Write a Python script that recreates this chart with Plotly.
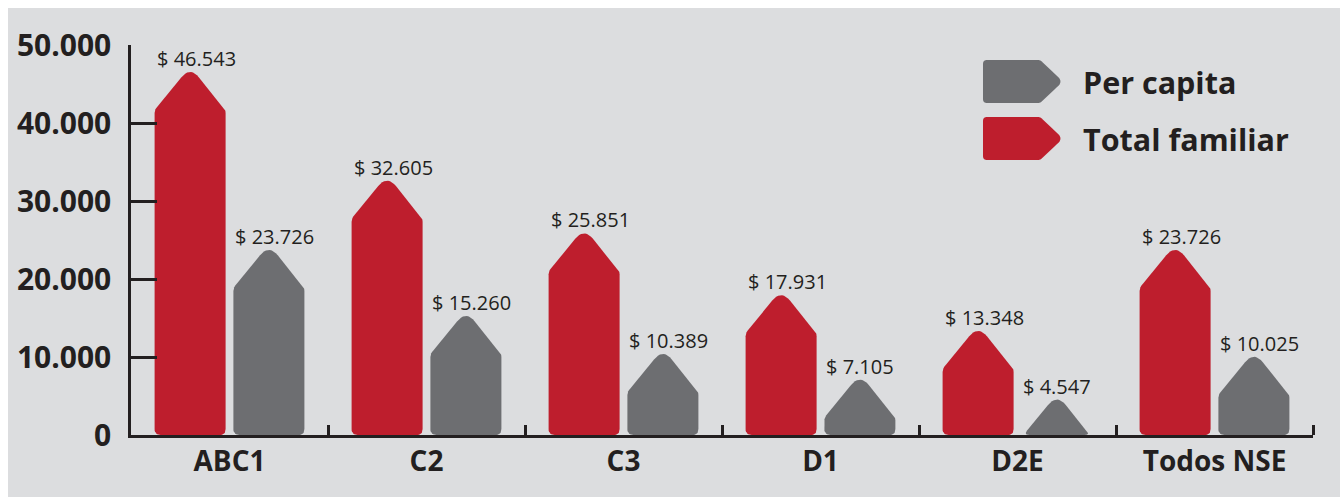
import numpy as np
import plotly.graph_objects as go

# ---- data ----
categorias = ["ABC1", "C2", "C3", "D1", "D2E", "Todos NSE"]
total_familiar = [46543, 32605, 25851, 17931, 13348, 23726]
per_capita = [23726, 15260, 10389, 7105, 4547, 10025]
valores_eje_y = [0, 10000, 20000, 30000, 40000, 50000]
textos_eje_y = ["0", "10.000", "20.000", "30.000", "40.000", "50.000"]
series = [("Total familiar", total_familiar), ("Per capita", per_capita)]

# ---- style ----
ROJO = "#be1e2d"
GRIS = "#6d6e71"
FONDO = "#dcdddf"
TINTA = "#231f20"
FUENTE = "Open Sans"
colores = {"Total familiar": ROJO, "Per capita": GRIS}
desplazamiento = {"Total familiar": -0.2, "Per capita": 0.2}

W, H = 1340, 497
ML, MR, MT, MB = 131, 27, 45, 62
PW, PH = W - ML - MR, H - MT - MB
Y_MAX = 50000
N = len(categorias)
PX_X = PW / N           # pixels per category unit
PX_Y = PH / Y_MAX       # pixels per value unit

MEDIO_ANCHO = 35.5      # half bar width, px
PUNTA = 38              # height of the pointed top, px
R_BASE, R_HOMBRO, R_PUNTA = 6, 3, 14


def redondear(puntos, radios, pasos=10):
    pts = [np.array(p, float) for p in puntos]
    out = []
    n = len(pts)
    for i, (p, r) in enumerate(zip(pts, radios)):
        a, b = pts[i - 1], pts[(i + 1) % n]
        if r <= 0:
            out.append(p)
            continue
        va, vb = a - p, b - p
        la, lb = np.linalg.norm(va), np.linalg.norm(vb)
        d = min(r, la / 2, lb / 2)
        p1, p2 = p + va / la * d, p + vb / lb * d
        for t in np.linspace(0, 1, pasos):
            out.append((1 - t) ** 2 * p1 + 2 * (1 - t) * t * p + t ** 2 * p2)
    return np.array(out)


def silueta(valor):
    """Pointed bar outline in pixels (x from bar centre, y up from baseline)."""
    h = valor * PX_Y
    # lift the vertex so the rounded apex lands on the value
    delta = 0.0
    for _ in range(6):
        uy = (PUNTA + delta) / np.hypot(MEDIO_ANCHO, PUNTA + delta)
        delta = 0.5 * R_PUNTA * uy
    tope = h + delta
    hombro = h - PUNTA
    w = MEDIO_ANCHO
    if hombro > 0:
        pts = [(-w, 0), (-w, hombro), (0, tope), (w, hombro), (w, 0)]
        rad = [R_BASE, R_HOMBRO, R_PUNTA, R_HOMBRO, R_BASE]
    else:
        # slanted sides cut by the baseline
        f = tope / (tope - hombro)
        xi = w * f
        pts = [(-xi, 0), (0, tope), (xi, 0)]
        rad = [R_BASE, R_PUNTA, R_BASE]
    return redondear(pts, rad)


fig = go.Figure()
anotaciones = []

for nombre, valores in series:
    for i, v in enumerate(valores):
        cx = i + desplazamiento[nombre]
        s = silueta(v)
        fig.add_trace(go.Scatter(
            x=cx + s[:, 0] / PX_X, y=s[:, 1] / PX_Y,
            mode="lines", fill="toself", fillcolor=colores[nombre],
            line=dict(width=0, color=colores[nombre]),
            hoverinfo="skip", showlegend=False,
        ))
        etiqueta = "$ " + f"{v:,}".replace(",", ".")
        anotaciones.append(dict(
            x=cx - MEDIO_ANCHO / PX_X, y=v, xref="x", yref="y",
            text=etiqueta, showarrow=False, xanchor="left", yanchor="bottom",
            yshift=-2, font=dict(family=FUENTE, size=20, color=TINTA),
        ))


def a_papel(px, py):
    return (px - ML) / PW, (H - MB - py) / PH


# ---- legend ----
formas = []
leyenda = [("Per capita", 60, 103), ("Total familiar", 117, 160)]
for nombre, y0, y1 in leyenda:
    x0, x1, xq = 983, 1063, 1040
    ym = (y0 + y1) / 2
    pts = [(x0, y1), (x0, y0), (xq, y0), (x1, ym), (xq, y1)]
    contorno = redondear(pts, [4, 4, 2, 7, 2])
    camino = "M " + " L ".join(
        "{:.5f},{:.5f}".format(*a_papel(px, py)) for px, py in contorno) + " Z"
    formas.append(dict(type="path", path=camino, xref="paper", yref="paper",
                       fillcolor=colores[nombre], line=dict(width=0), layer="above"))
    tx, ty = a_papel(1081, ym)
    anotaciones.append(dict(
        x=tx, y=ty, xref="paper", yref="paper", text=nombre, showarrow=False,
        xanchor="left", yanchor="middle",
        font=dict(family=FUENTE, size=30.5, color=TINTA, weight="bold"),
    ))

# grey panel behind the chart
bx0, by0 = a_papel(8, H)
bx1, by1 = a_papel(W, 8)
formas.insert(0, dict(type="rect", xref="paper", yref="paper",
                      x0=bx0, x1=bx1, y0=by0, y1=by1,
                      fillcolor=FONDO, line=dict(width=0), layer="below"))

fig.update_layout(
    width=W, height=H,
    margin=dict(l=ML, r=MR, t=MT, b=MB, pad=0),
    paper_bgcolor="white", plot_bgcolor="rgba(0,0,0,0)",
    showlegend=False, shapes=formas, annotations=anotaciones,
    font=dict(family=FUENTE, color=TINTA),
)

fig.update_xaxes(
    range=[-0.5, N - 0.5], showgrid=False, zeroline=False,
    showline=True, linecolor=TINTA, linewidth=2.5,
    tickmode="array", tickvals=list(range(N)), ticktext=categorias,
    ticks="", ticklabelstandoff=0,
    tickfont=dict(family=FUENTE, size=28, color=TINTA, weight="bold"),
    minor=dict(tickmode="array", tickvals=[i + 0.5 for i in range(N)],
               ticks="inside", ticklen=10, tickwidth=2.5, tickcolor=TINTA),
)
fig.update_yaxes(
    range=[0, Y_MAX], showgrid=False, zeroline=False,
    showline=True, linecolor=TINTA, linewidth=2.5,
    tickmode="array", tickvals=valores_eje_y, ticktext=textos_eje_y,
    ticks="inside", ticklen=26, tickwidth=2.5, tickcolor=TINTA,
    ticklabelstandoff=11,
    tickfont=dict(family=FUENTE, size=30, color=TINTA, weight="bold"),
)

fig.write_html("out.html")
